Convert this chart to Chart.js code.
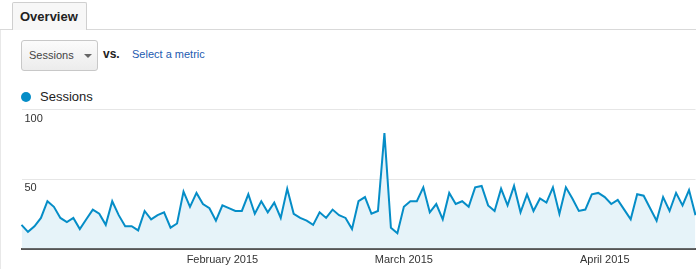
<!DOCTYPE html>
<html>
<head>
<meta charset="utf-8">
<script src="https://cdn.jsdelivr.net/npm/chart.js@4/dist/chart.umd.min.js"></script>
<style>
  html, body { margin: 0; padding: 0; background: #fff; }
  body { width: 696px; height: 269px; position: relative; overflow: hidden;
         font-family: Arial, "Liberation Sans", sans-serif; color: #333; }
  #leftEdge { position: absolute; left: 0; top: 29px; width: 1px; height: 240px; background: #e8e8e8; }
  #tabLine { position: absolute; left: 0; top: 29px; width: 696px; height: 1px; background: #d9d9d9; }
  #tab { position: absolute; left: 12px; top: 2px; width: 73px; height: 27px;
         border: 1px solid #cfcfcf; border-bottom: none; border-radius: 2px 2px 0 0;
         background: #f7f7f7; z-index: 2;
         font-weight: bold; font-size: 13px; color: #222; line-height: 27px; text-indent: 7px; }
  #select { position: absolute; left: 21px; top: 40px; width: 75px; height: 29px;
            border: 1px solid #c8c8c8; border-radius: 3px;
            background: linear-gradient(#fbfbfb, #ececec);
            font-size: 11px; color: #444; line-height: 29px; text-indent: 7px; }
  #arrow { position: absolute; left: 62px; top: 13px; width: 0; height: 0;
           border-left: 4px solid transparent; border-right: 4px solid transparent;
           border-top: 4px solid #666; }
  #vs { position: absolute; left: 103px; top: 47px; font-size: 12px; font-weight: bold; color: #222; }
  #metric { position: absolute; left: 132px; top: 48px; font-size: 11px; color: #1d5bb0; }
  #legDot { position: absolute; left: 21px; top: 92px; width: 10px; height: 10px;
            border-radius: 50%; background: #058dc7; }
  #legText { position: absolute; left: 40px; top: 89px; font-size: 13px; color: #222; }
  #chartBox { position: absolute; left: 0; top: 0; width: 696px; height: 269px; }
</style>
</head>
<body>
<div id="leftEdge"></div>
<div id="tabLine"></div>
<div id="tab">Overview</div>
<div id="select">Sessions<div id="arrow"></div></div>
<div id="vs">vs.</div>
<div id="metric">Select a metric</div>
<div id="legDot"></div>
<div id="legText">Sessions</div>
<div id="chartBox"><canvas id="sessionsChart"></canvas></div>

<script>
// daily sessions, Jan 1 - Apr 15 2015
const sessions = [
  17, 12, 16, 22, 34, 30, 22, 19, 22, 14,
  21, 28, 25, 17, 34, 24, 16, 16, 13, 27,
  21, 24, 26, 15, 18, 41, 30, 40, 32, 29,
  20, 31, 29, 27, 27, 39, 25, 34, 26, 33,
  22, 43, 25, 22, 20, 17, 26, 22, 28, 24,
  22, 14, 34, 37, 25, 27, 83, 15, 11, 30,
  34, 34, 44, 26, 32, 21, 40, 32, 34, 30,
  44, 45, 31, 27, 43, 31, 45, 26, 39, 27,
  36, 33, 44, 25, 44, 36, 27, 28, 39, 40,
  37, 32, 35, 28, 21, 39, 38, 29, 20, 37,
  27, 40, 31, 42, 24
];
const monthTicks = ["February 2015", "March 2015", "April 2015"];
const monthTickIndex = [31, 59, 90];
const yTicks = [50, 100];

// one category per day
const days = sessions.map((_, i) => {
  const d = new Date(2015, 0, 1 + i);
  return d.toISOString().slice(0, 10);
});

const ctx = document.getElementById("sessionsChart");
new Chart(ctx, {
  type: "line",
  data: {
    labels: days,
    datasets: [
      {
        label: "Sessions",
        data: sessions,
        borderColor: "#058dc7",
        backgroundColor: "#e6f3f9",
        borderWidth: 2,
        fill: "origin",
        tension: 0,
        pointRadius: 0
      }
    ]
  },
  options: {
    responsive: true,
    maintainAspectRatio: false,
    animation: false,
    layout: {
      padding: { left: 21.5, right: 0.5, top: 109.5, bottom: 0 }
    },
    plugins: {
      legend: { display: false },
      tooltip: { enabled: false }
    },
    scales: {
      x: {
        grid: { display: false, drawTicks: false },
        border: { display: true, color: "#555", width: 2 },
        ticks: {
          autoSkip: false,
          maxRotation: 0,
          padding: 5,
          color: "#333",
          font: { family: "Arial, 'Liberation Sans'", size: 11 },
          callback: (val, i) => {
            const k = monthTickIndex.indexOf(i);
            return k >= 0 ? monthTicks[k] : "";
          }
        },
        // keep the plot flush with the page edges
        afterFit: s => {
          s.height = 20.5;
          s.paddingLeft = 0;
          s.paddingRight = 0;
        }
      },
      y: {
        min: 0,
        max: 100,
        grid: {
          drawTicks: false,
          color: c => (yTicks.includes(c.tick.value) ? "#e6e6e6" : "transparent")
        },
        border: { display: false },
        ticks: {
          stepSize: 50,
          mirror: true,
          padding: 3,
          labelOffset: 9,
          color: "#333",
          font: { family: "Arial, 'Liberation Sans'", size: 11 },
          callback: v => (yTicks.includes(v) ? String(v) : "")
        },
        afterFit: s => {
          s.width = 0;
          s.paddingTop = 0;
          s.paddingBottom = 0;
        }
      }
    }
  }
});
</script>
</body>
</html>
